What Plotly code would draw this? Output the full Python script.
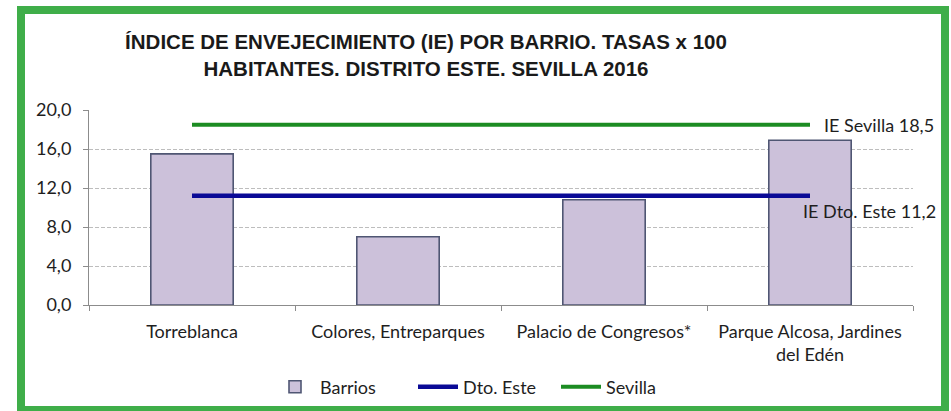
import plotly.graph_objects as go

categories = ["Torreblanca", "Colores, Entreparques", "Palacio de Congresos*",
              "Parque Alcosa, Jardines<br>del Edén"]
barrios = [15.5, 7.0, 10.8, 16.9]
dto_este = [11.2, 11.2, 11.2, 11.2]
sevilla = [18.5, 18.5, 18.5, 18.5]
y_ticks = [0, 4, 8, 12, 16, 20]

W, H = 951, 411
L, R, T, B = 89, 913, 110, 305  # plot area in pixels

def px(x):
    return (x - L) / (R - L)

def py(y):
    return (B - y) / (B - T)

label_font = dict(family="Lato, Open Sans, sans-serif", size=18, color="#1e1e1e")

fig = go.Figure()
fig.add_trace(go.Bar(x=categories, y=barrios, name="Barrios",
                     marker=dict(color="#ccc1da", line=dict(color="#4f5673", width=1.6)),
                     width=0.4))
fig.add_trace(go.Scatter(x=categories, y=dto_este, name="Dto. Este", mode="lines",
                         line=dict(color="#0a0a96", width=4.5)))
fig.add_trace(go.Scatter(x=categories, y=sevilla, name="Sevilla", mode="lines",
                         line=dict(color="#1c8c22", width=4)))

fig.update_layout(
    width=W, height=H,
    margin=dict(l=L, r=W - R, t=T, b=H - B, pad=0, autoexpand=False),
    paper_bgcolor="white", plot_bgcolor="white",
    separators=",.",
    showlegend=True,
    legend=dict(orientation="h", x=px(270), xanchor="left", y=py(387), yanchor="middle",
                font=label_font, itemwidth=40, entrywidth=88, entrywidthmode="pixels",
                tracegroupgap=0, bgcolor="rgba(0,0,0,0)"),
    title=dict(text="ÍNDICE DE ENVEJECIMIENTO (IE) POR BARRIO. TASAS x 100<br>HABITANTES. DISTRITO ESTE. SEVILLA 2016",
               xref="container", yref="container", x=426 / W, xanchor="center",
               y=1 - 49 / H, yanchor="top",
               font=dict(family="Liberation Sans Narrow, Arial Narrow, Liberation Sans, sans-serif",
                         size=20.5, color="#1a1a1a", weight="bold")),
    bargap=0.6,
)
fig.update_yaxes(range=[0, 20], tickvals=y_ticks, tickformat=".1f",
                 showgrid=True, gridcolor="#bdbdbd", griddash="4px,2px", gridwidth=1,
                 showline=True, linecolor="#8c8c8c", linewidth=1,
                 ticks="outside", ticklen=5, tickcolor="#8c8c8c", ticklabelstandoff=8,
                 tickfont=label_font, zeroline=False, fixedrange=True)
fig.update_xaxes(showline=True, linecolor="#8c8c8c", linewidth=1,
                 ticks="outside", ticklen=5, tickcolor="#8c8c8c", tickson="boundaries",
                 ticklabelstandoff=10,
                 tickfont=label_font, showgrid=False, fixedrange=True)

fig.add_annotation(text="IE Sevilla 18,5", xref="paper", yref="paper",
                   x=px(822), y=py(125), xanchor="left", yanchor="middle",
                   showarrow=False, font=label_font)
fig.add_annotation(text="IE Dto. Este 11,2", xref="paper", yref="paper",
                   x=px(801), y=py(211), xanchor="left", yanchor="middle",
                   showarrow=False, font=label_font)

fig.add_shape(type="rect", xref="paper", yref="paper",
              x0=px(21), x1=px(945), y0=py(410), y1=py(10),
              line=dict(color="#3fae49", width=8), fillcolor="rgba(0,0,0,0)", layer="above")

fig.write_html("out.html", config={"displayModeBar": False},
               post_script="document.body.style.margin='0';document.body.style.overflow='hidden';")
